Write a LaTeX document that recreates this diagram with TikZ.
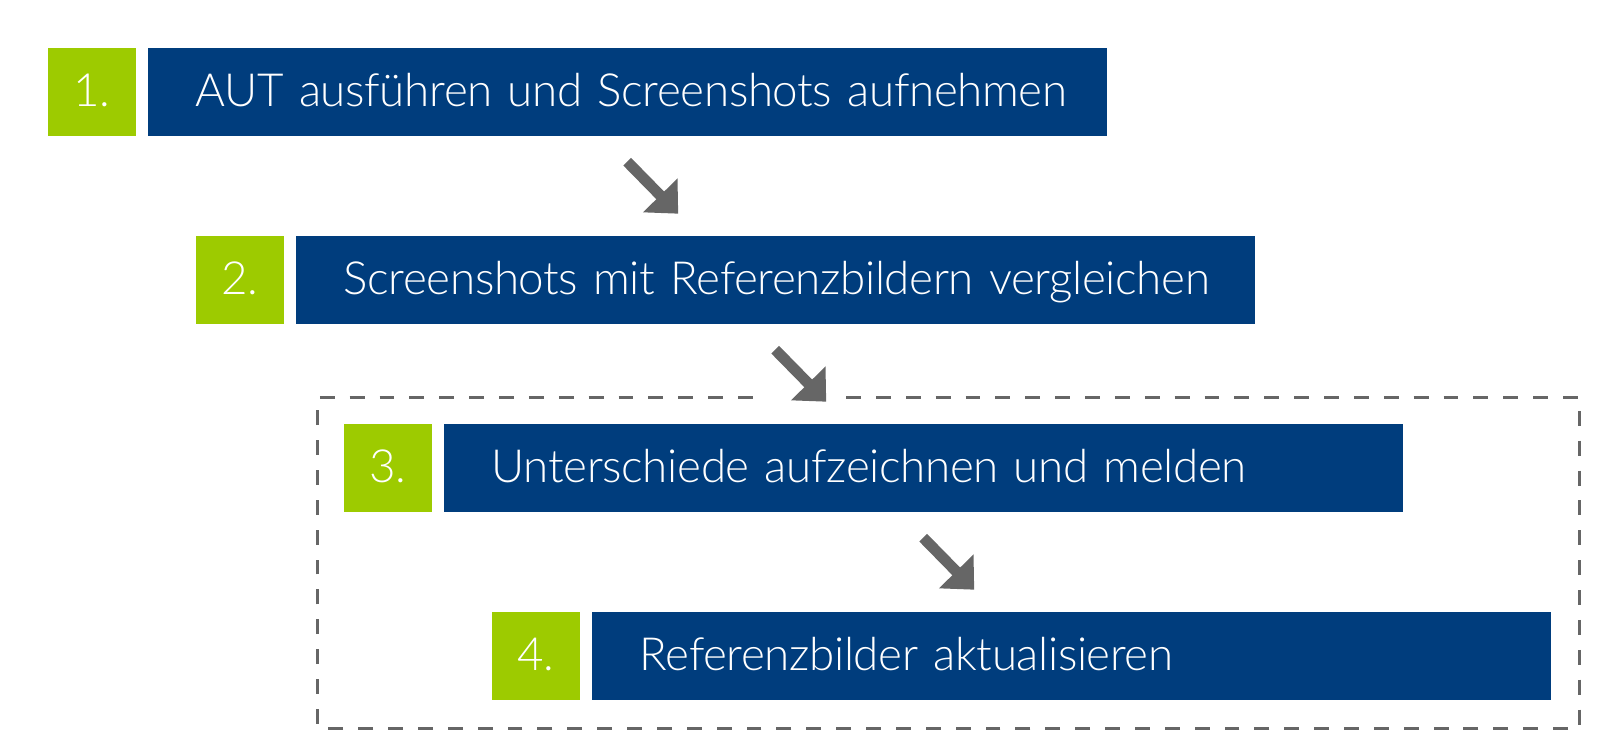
\documentclass[tikz,border=0pt]{standalone}
\usepackage{fontspec}
\setmainfont{Lato Light}[LetterSpace=-0.8,WordSpace=0.85]
\usetikzlibrary{arrows.meta}
\definecolor{stepblue}{HTML}{003D7D}
\definecolor{stepgreen}{HTML}{9DCB00}
\definecolor{arrowgray}{HTML}{666666}
\begin{document}
\begin{tikzpicture}[
    numbox/.style={fill=stepgreen,text=white,minimum size=0.88cm,inner sep=0pt,
        text height=8.4pt,text depth=0pt,font=\fontsize{13pt}{16pt}\selectfont},
    stepbox/.style={fill=stepblue,text=white,anchor=west,minimum height=0.88cm,
        inner sep=0pt,text width=9.59cm,align=left,
        execute at begin node={\hspace*{0.48cm}},
        text height=8.4pt,text depth=0pt,font=\fontsize{13pt}{16pt}\selectfont},
    steparrow/.style={-{Triangle[length=7.3pt,width=13.3pt]},arrowgray,line width=3.1pt}]
        \useasboundingbox(0,0)rectangle(16,7.5);

        \node[numbox](n1)at(0.92,6.58){1.};
        \node[stepbox](s1)at(1.47,6.58){AUT ausführen und Screenshots aufnehmen};
        \node[numbox](n2)at(2.40,4.70){2.};
        \node[stepbox](s2)at(2.95,4.70){Screenshots mit Referenzbildern vergleichen};
        \node[numbox](n3)at(3.88,2.82){3.};
        \node[stepbox](s3)at(4.43,2.82){Unterschiede aufzeichnen und melden};
        \node[numbox](n4)at(5.36,0.94){4.};
        \node[stepbox](s4)at(5.91,0.94){Referenzbilder aktualisieren};

        \draw[steparrow]([yshift=-0.25cm]s1.south)--++(0.51,-0.52);
        \draw[steparrow]([yshift=-0.25cm]s2.south)--++(0.51,-0.52);
        \draw[steparrow]([yshift=-0.25cm]s3.south)--++(0.51,-0.52);

        % box round steps 3 and 4, open where the arrow comes in
        \draw[arrowgray,line width=0.85pt,dash pattern=on 4.25pt off 4.25pt]
            (8.46,3.525)--(15.795,3.525)--(15.795,0.22)--(3.175,0.22)--(3.175,3.525)--(7.66,3.525);
    \end{tikzpicture}
\end{document}
